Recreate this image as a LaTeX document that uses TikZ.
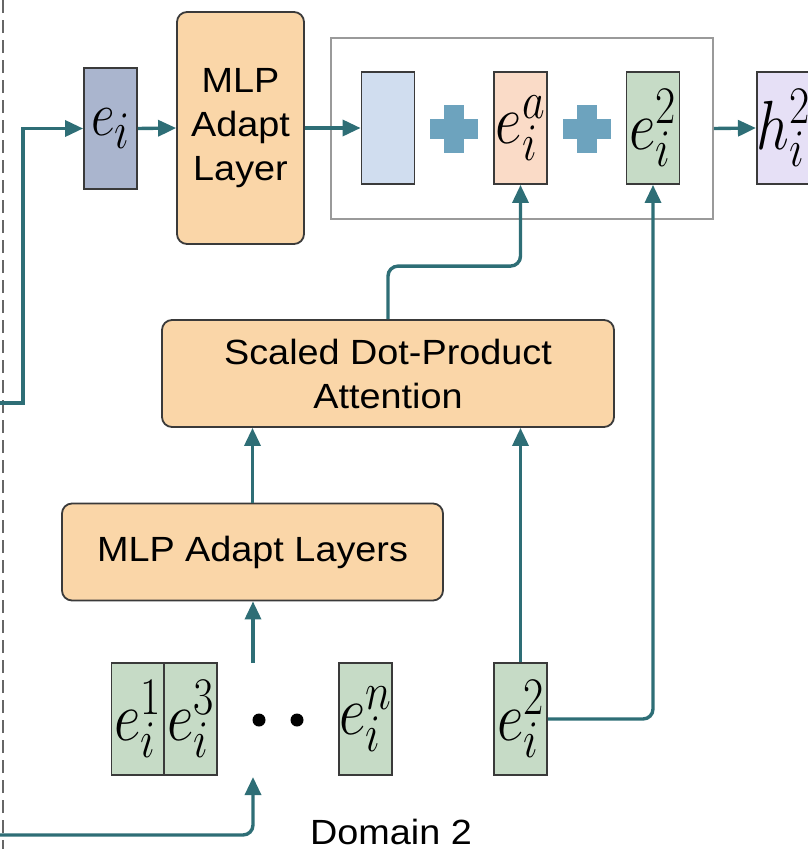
\RequirePackage{fix-cm}
\documentclass[tikz,border=0pt]{standalone}
\usepackage{fontspec}
\newfontfamily\labfont{Liberation Sans}[FakeStretch=1.08]
\usetikzlibrary{arrows.meta}

% large index/exponent for the vector symbols
\newcommand\ix[1]{\hbox{\fontsize{44}{44}\selectfont$#1$}}
% tall rendering of a vector symbol
\newcommand\vsym[1]{\scalebox{1}[1.2]{$#1$}}

\definecolor{flow}{HTML}{2E6E76}
\definecolor{boxline}{HTML}{3A3A3A}
\definecolor{orangefill}{HTML}{FAD6A8}
\definecolor{slatefill}{HTML}{AAB5CE}
\definecolor{bluefill}{HTML}{D0DDEF}
\definecolor{peachfill}{HTML}{FADBC7}
\definecolor{greenfill}{HTML}{C6DBC6}
\definecolor{lilacfill}{HTML}{E6E0F6}
\definecolor{plusfill}{HTML}{6DA3BE}
\definecolor{framegray}{HTML}{9A9A9A}

\begin{document}
\begin{tikzpicture}[x=1pt,y=-1pt,
  vecbox/.style={draw=boxline, line width=1.8pt, inner sep=0pt,
    minimum width=53pt, minimum height=112pt,
    font=\fontsize{58}{58}\selectfont},
  layerbox/.style={draw=boxline, line width=1.8pt, fill=orangefill,
    rounded corners=10pt, inner sep=0pt, align=center,
    font=\labfont\fontsize{35}{44}\selectfont},
  arr/.style={draw=flow, line width=3.4pt,
    -{Triangle[length=18pt,width=16pt]}},
  plusmark/.style={fill=plusfill}
]
\useasboundingbox (0,0) rectangle (808,849);

% domain separator
\draw[draw=black!60, line width=2.4pt, dash pattern=on 13pt off 7pt] (3,0) -- (3,849);

% top row
\node[vecbox, fill=slatefill, minimum height=121pt,
  font=\fontsize{52}{52}\selectfont] (ei) at (110.5,128.5) {\vsym{e_{\ix{i}}}};
\node[layerbox, minimum width=127pt, minimum height=232pt] (mlp1) at (240.5,128)
  {MLP\\Adapt\\Layer};
\node[draw=framegray, line width=1.8pt, minimum width=382pt, minimum height=181pt,
  inner sep=0pt] (sum) at (522,128.5) {};
\node[vecbox, fill=bluefill] (vb) at (388,128) {};
\node[vecbox, fill=peachfill] (ea) at (520.5,128) {\vsym{e_{\ix{i}}^{\ix{a}}}};
\node[vecbox, fill=greenfill] (e2t) at (653,128) {\vsym{e_{\ix{i}}^{\ix{2}}}};
\node[vecbox, fill=lilacfill] (h) at (783.5,128) {\vsym{h_{\ix{i}}^{\ix{2}}}};

% plus signs
\foreach \cx in {454,587}{
  \fill[plusmark] (\cx-24,119) rectangle (\cx+24,139);
  \fill[plusmark] (\cx-10,105) rectangle (\cx+10,153);
}

% attention and adaptation layers
\node[layerbox, minimum width=452pt, minimum height=107pt] (att) at (388,373.5)
  {Scaled Dot-Product\\Attention};
\node[layerbox, minimum width=381pt, minimum height=97pt] (mlp2) at (252.5,552)
  {MLP Adapt Layers};

% bottom row of domain embeddings
\node[vecbox, fill=greenfill] (e1) at (138,719) {\vsym{e_{\ix{i}}^{\ix{1}}}};
\node[vecbox, fill=greenfill] (e3) at (190.5,719) {\vsym{e_{\ix{i}}^{\ix{3}}}};
\fill (259,720) circle (6.5pt);
\fill (297,720) circle (6.5pt);
\node[vecbox, fill=greenfill] (en) at (365.5,719) {\vsym{e_{\ix{i}}^{\ix{n}}}};
\node[vecbox, fill=greenfill] (e2b) at (520.5,719) {\vsym{e_{\ix{i}}^{\ix{2}}}};

\node[font=\labfont\fontsize{35}{44}\selectfont, anchor=base, inner sep=0pt]
  (dom) at (391,844) {Domain 2};

% connectors
\coordinate (inL) at (0,403);
\coordinate (inC) at (23,403);
\draw[arr] (inL) -- (inC) |- (ei.west);
\draw[arr] (ei.east) -- (mlp1.west);
\draw[arr] (mlp1.east) -- (vb.west);
\draw[arr] (sum.east) -- (h.west);
\draw[arr, rounded corners=10pt] (att.north) -- ++(0,-53) -| (ea.south);
\draw[arr] (mlp2.north) -- (mlp2.north |- att.south);
\draw[arr] (e2b.north) -- (e2b.north |- att.south);
\draw[arr, rounded corners=10pt] (e2b.east) -| (e2t.south);

\coordinate (gTop) at (253,663);
\coordinate (gBot) at (253,777);
\coordinate (inB) at (0,835);
\draw[arr] (gTop) -- (gTop |- mlp2.south);
\draw[arr, rounded corners=10pt] (inB) -| (gBot);
\end{tikzpicture}
\end{document}
